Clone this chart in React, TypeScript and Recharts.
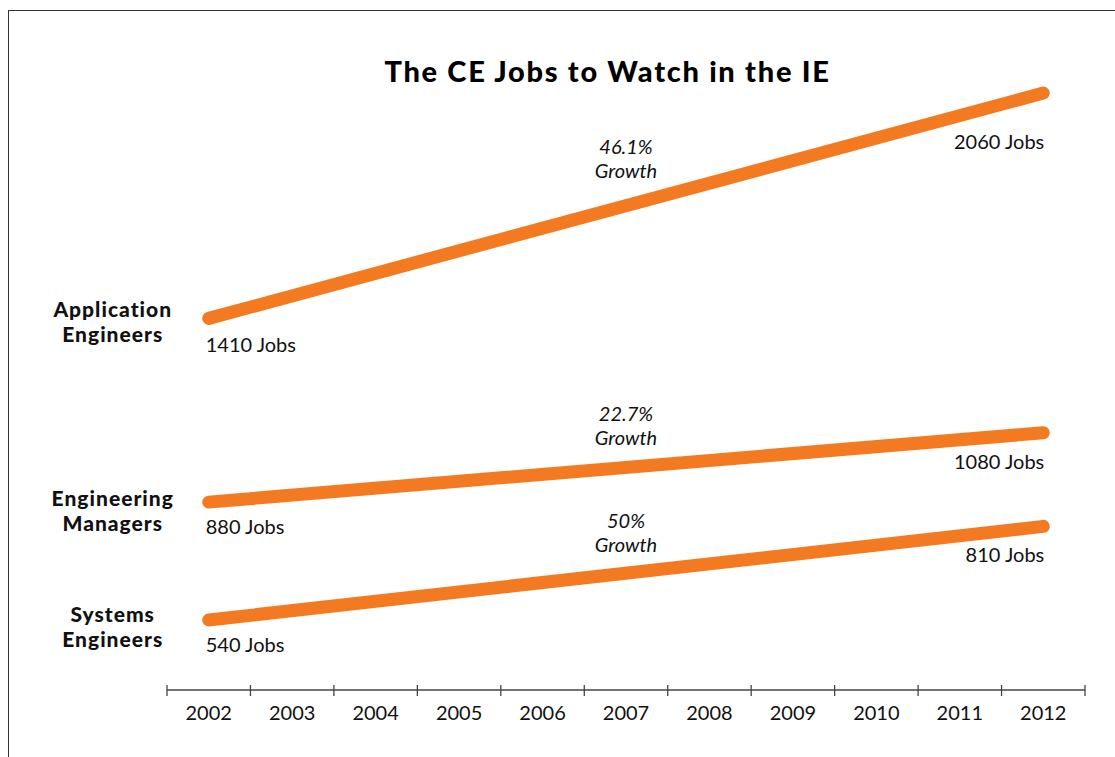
import { LabelList, Line, LineChart, ReferenceDot, XAxis, YAxis } from "recharts";

const YEARS = ["2002", "2003", "2004", "2005", "2006", "2007", "2008", "2009", "2010", "2011", "2012"];
const APP_JOBS = [1410, null, null, null, null, null, null, null, null, null, 2060];
const MGR_JOBS = [880, null, null, null, null, null, null, null, null, null, 1080];
const SYS_JOBS = [540, null, null, null, null, null, null, null, null, null, 810];
const GROWTH = ["46.1%", "22.7%", "50%"];
const ROLE_NAMES = [
  ["Application", "Engineers"],
  ["Engineering", "Managers"],
  ["Systems", "Engineers"],
];
const SERIES_KEYS = ["app", "mgr", "sys"];
const SERIES_VALUES = [APP_JOBS, MGR_JOBS, SYS_JOBS];

const ORANGE = "#f47a22";
const FONT = "Lato, 'Open Sans', sans-serif";
const BAND = (1085 - 167) / YEARS.length;

// pixel offsets for the annotations
const END_LABEL_DY = [56, 36, 36];
const START_LABEL_DY = [34, 32, 32];
const GROWTH_DY = [-52, -46, -45];
const ROLE_DY = [-1, 4, 2];

const data = YEARS.map((year, i) => ({
  year,
  app: APP_JOBS[i],
  mgr: MGR_JOBS[i],
  sys: SYS_JOBS[i],
}));

function YearTick({ x, y, payload, index }: any) {
  const last = index === YEARS.length - 1;
  return (
    <g>
      <line x1={x - BAND / 2} x2={x - BAND / 2} y1={y - 5} y2={y + 6} stroke="#444" strokeWidth={1.3} />
      {last && <line x1={x + BAND / 2} x2={x + BAND / 2} y1={y - 5} y2={y + 6} stroke="#444" strokeWidth={1.3} />}
      <text x={x} y={y + 30} textAnchor="middle" fontFamily={FONT} fontSize={20} fill="#111">
        {payload.value}
      </text>
    </g>
  );
}

function makeEndLabels(s: number) {
  return (props: any) => {
    const { x, y, index, value } = props;
    if (value == null) return null;
    if (index === 0) {
      return (
        <g>
          <text x={x - 3} y={y + START_LABEL_DY[s]} fontFamily={FONT} fontSize={20} fill="#111">
            {value} Jobs
          </text>
          <text textAnchor="middle" fontFamily={FONT} fontWeight={900} fontSize={21} letterSpacing={1} fill="#111">
            <tspan x={x - 96} y={y + ROLE_DY[s]}>{ROLE_NAMES[s][0]}</tspan>
            <tspan x={x - 96} y={y + ROLE_DY[s] + 25}>{ROLE_NAMES[s][1]}</tspan>
          </text>
        </g>
      );
    }
    return (
      <text x={x + 1} y={y + END_LABEL_DY[s]} textAnchor="end" fontFamily={FONT} fontSize={20} fill="#111">
        {value} Jobs
      </text>
    );
  };
}

function makeGrowthLabel(s: number) {
  return (props: any) => {
    const vb = props.viewBox || {};
    const cx = vb.x + (vb.width || 0) / 2;
    const cy = vb.y + (vb.height || 0) / 2;
    return (
      <text textAnchor="middle" fontFamily={FONT} fontStyle="italic" fontSize={20} fill="#111">
        <tspan x={cx} y={cy + GROWTH_DY[s]}>{GROWTH[s]}</tspan>
        <tspan x={cx} y={cy + GROWTH_DY[s] + 24}>Growth</tspan>
      </text>
    );
  };
}

export default function App() {
  return (
    <div style={{ position: "absolute", left: 0, top: 0, width: 1115, height: 757, background: "#fff" }}>
      <div
        style={{
          position: "absolute",
          left: 8,
          top: 10,
          width: 1107,
          height: 747,
          borderTop: "1.5px solid #333",
          borderLeft: "1.5px solid #333",
          boxSizing: "border-box",
        }}
      />
      <div
        style={{
          position: "absolute",
          left: 0,
          width: 1215,
          top: 53,
          textAlign: "center",
          fontFamily: FONT,
          fontWeight: 900,
          fontSize: 29,
          letterSpacing: 1.7,
          color: "#000",
        }}
      >
        The CE Jobs to Watch in the IE
      </div>
      <div style={{ position: "absolute", left: 0, top: 0 }}>
        <LineChart width={1115} height={757} data={data} margin={{ top: 40, right: 30, left: 167, bottom: 27 }}>
          <XAxis
            dataKey="year"
            scale="point"
            padding={{ left: BAND / 2, right: BAND / 2 }}
            height={40}
            tickLine={false}
            tickSize={0}
            tickMargin={0}
            axisLine={{ stroke: "#444", strokeWidth: 1.5 }}
            tick={<YearTick />}
            interval={0}
          />
          <YAxis hide domain={[338, 2213]} type="number" allowDataOverflow />
          {SERIES_KEYS.map((key, s) => (
            <Line
              key={key}
              type="linear"
              dataKey={key}
              stroke={ORANGE}
              strokeWidth={13}
              strokeLinecap="round"
              dot={false}
              activeDot={false}
              connectNulls
              isAnimationActive={false}
            >
              <LabelList dataKey={key} content={makeEndLabels(s)} />
            </Line>
          ))}
          {SERIES_VALUES.map((vals, s) => (
            <ReferenceDot
              key={"g" + s}
              x="2007"
              y={((vals[0] as number) + (vals[vals.length - 1] as number)) / 2}
              r={0}
              fill="none"
              stroke="none"
              label={makeGrowthLabel(s)}
            />
          ))}
        </LineChart>
      </div>
    </div>
  );
}
